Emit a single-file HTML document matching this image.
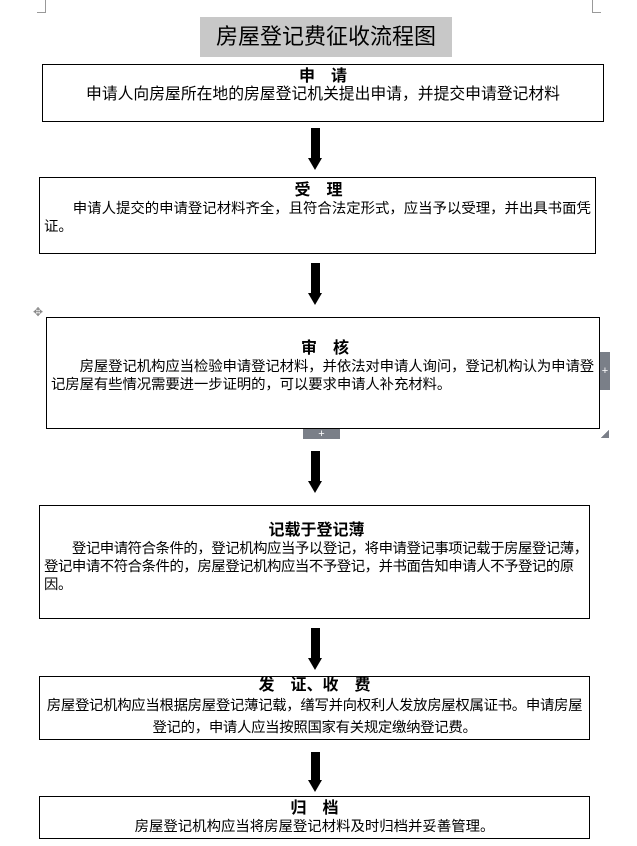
<!DOCTYPE html>
<html><head><meta charset="utf-8"><style>
html,body{margin:0;padding:0;background:#fff;}
body{width:637px;height:846px;position:relative;overflow:hidden;font-family:"Liberation Sans","Noto Sans CJK SC","WenQuanYi Zen Hei",sans-serif;color:#000;}
.b{position:absolute;border:1px solid #000;box-sizing:border-box;font-size:14.4px;line-height:18px;white-space:nowrap;overflow:hidden;}
.h{text-align:center;font-weight:bold;font-size:16px;line-height:19px;letter-spacing:0;}
.a{position:absolute;left:308px;width:15px;}
.a .s{position:absolute;left:3px;width:9px;top:0;background:#000;}
.a .t{position:absolute;left:0;width:0;height:0;border-left:7.5px solid transparent;border-right:7.5px solid transparent;border-top:12px solid #000;}
.c{position:absolute;border-color:#999;border-style:solid;}
</style></head><body>
<div class="c" style="left:37px;top:0;width:8px;height:12px;border-width:0 1px 1px 0"></div>
<div class="c" style="left:592px;top:0;width:8px;height:12px;border-width:0 0 1px 1px"></div>
<div style="position:absolute;left:200px;top:17px;width:252px;height:40px;background:#c8c8c8;font-size:22px;line-height:40px;text-align:center;">房屋登记费征收流程图</div>

<div class="b" style="left:42px;top:64px;width:562px;height:58px;text-align:center;padding-top:2px;font-size:15.8px;"><div class="h">申　请</div>申请人向房屋所在地的房屋登记机关提出申请，并提交申请登记材料</div>
<div class="a" style="top:128px"><div class="s" style="height:32px"></div><div class="t" style="top:30px"></div></div>

<div class="b" style="left:39px;top:177px;width:557px;height:77px;padding:3px 2px 0 4px;"><div class="h">受　理</div>&emsp;&emsp;申请人提交的申请登记材料齐全，且符合法定形式，应当予以受理，并出具书面凭<br>证。</div>
<div class="a" style="top:263px"><div class="s" style="height:32px"></div><div class="t" style="top:30px"></div></div>

<div style="position:absolute;left:33px;top:305px;color:#888;font-size:12px;">✥</div>
<div class="b" style="left:46px;top:317px;width:554px;height:112px;padding:21px 0 0 4px;letter-spacing:-0.1px;"><div class="h">审　核</div>&emsp;&emsp;房屋登记机构应当检验申请登记材料，并依法对申请人询问，登记机构认为申请登<br>记房屋有些情况需要进一步证明的，可以要求申请人补充材料。</div>
<div style="position:absolute;left:600px;top:352px;width:10px;height:38px;background:#7a7f88;color:#fff;font-size:11px;line-height:38px;text-align:center;">+</div>
<div style="position:absolute;left:303px;top:429px;width:37px;height:10px;background:#7a7f88;color:#fff;font-size:11px;line-height:10px;text-align:center;">+</div>
<div style="position:absolute;left:601px;top:430px;width:8px;height:8px;background:linear-gradient(135deg,transparent 50%,#7a7f88 50%);"></div>
<div class="a" style="top:451px"><div class="s" style="height:32px"></div><div class="t" style="top:30px"></div></div>

<div class="b" style="left:39px;top:505px;width:551px;height:114px;padding:15px 0 0 4px;letter-spacing:-0.45px;"><div class="h">记载于登记薄</div>&emsp;&emsp;登记申请符合条件的，登记机构应当予以登记，将申请登记事项记载于房屋登记薄，<br>登记申请不符合条件的，房屋登记机构应当不予登记，并书面告知申请人不予登记的原<br>因。</div>
<div class="a" style="top:628px"><div class="s" style="height:32px"></div><div class="t" style="top:30px"></div></div>

<div class="b" style="left:39px;top:676px;width:551px;height:64px;text-align:center;padding:0 2px;line-height:22px;letter-spacing:-0.3px;"><div class="h" style="line-height:18px">发　证、收　费</div>房屋登记机构应当根据房屋登记薄记载，缮写并向权利人发放房屋权属证书。申请房屋<br>登记的，申请人应当按照国家有关规定缴纳登记费。</div>
<div class="a" style="top:752px"><div class="s" style="height:30px"></div><div class="t" style="top:28px"></div></div>

<div class="b" style="left:39px;top:796px;width:551px;height:43px;text-align:center;padding-top:2px;"><div class="h">归　档</div>房屋登记机构应当将房屋登记材料及时归档并妥善管理。</div>
</body></html>
